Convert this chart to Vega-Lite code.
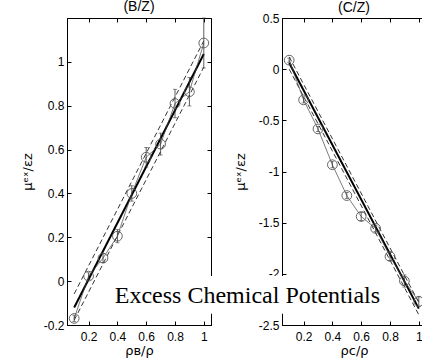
{
  "$schema": "https://vega.github.io/schema/vega-lite/v6.json",
  "padding": {"left": 20, "top": -1, "right": 0, "bottom": 0},
  "bounds": "flush",
  "spacing": 71,
  "datasets": {
    "ptsB": [
      {"x": 0.1, "y": -0.17, "err": 0.015},
      {"x": 0.2, "y": 0.023, "err": 0.015},
      {"x": 0.3, "y": 0.105, "err": 0.02},
      {"x": 0.4, "y": 0.205, "err": 0.03},
      {"x": 0.5, "y": 0.4, "err": 0.035},
      {"x": 0.6, "y": 0.565, "err": 0.045},
      {"x": 0.7, "y": 0.625, "err": 0.05},
      {"x": 0.8, "y": 0.81, "err": 0.065},
      {"x": 0.9, "y": 0.864, "err": 0.065},
      {"x": 1.0, "y": 1.086, "err": 0.114}
    ],
    "fitB": [
      {"x": 0.1, "y": -0.12, "s": "fit"},
      {"x": 1.0, "y": 1.036, "s": "fit"},
      {"x": 0.1, "y": -0.058, "s": "upper"},
      {"x": 1.0, "y": 1.096, "s": "upper"},
      {"x": 0.1, "y": -0.178, "s": "lower"},
      {"x": 1.0, "y": 0.976, "s": "lower"}
    ],
    "ptsC": [
      {"x": 0.1, "y": 0.088, "err": 0.02},
      {"x": 0.2, "y": -0.3, "err": 0.03},
      {"x": 0.3, "y": -0.584, "err": 0.025},
      {"x": 0.4, "y": -0.934, "err": 0.03},
      {"x": 0.5, "y": -1.235, "err": 0.03},
      {"x": 0.6, "y": -1.44, "err": 0.04},
      {"x": 0.7, "y": -1.556, "err": 0.03},
      {"x": 0.8, "y": -1.83, "err": 0.04},
      {"x": 0.9, "y": -2.07, "err": 0.06},
      {"x": 1.0, "y": -2.27, "err": 0.05}
    ],
    "fitC": [
      {"x": 0.1, "y": 0.06, "s": "fit"},
      {"x": 1.0, "y": -2.34, "s": "fit"},
      {"x": 0.1, "y": 0.12, "s": "upper"},
      {"x": 1.0, "y": -2.28, "s": "upper"},
      {"x": 0.1, "y": 0.0, "s": "lower"},
      {"x": 1.0, "y": -2.4, "s": "lower"}
    ]
  },
  "hconcat": [
    {
      "width": 144,
      "height": 307,
      "title": "(B/Z)",
      "layer": [
        {
          "data": {"name": "fitB"},
          "transform": [{"filter": "datum.s != 'fit'"}],
          "mark": {"type": "line", "color": "black", "strokeWidth": 0.8, "strokeDash": [5, 3]},
          "encoding": {
            "x": {"field": "x", "type": "quantitative", "scale": {"domain": [0.05, 1.05], "nice": false, "zero": false},
              "axis": {"values": [0.2, 0.4, 0.6, 0.8, 1], "title": "ρʙ/ρ"}},
            "y": {"field": "y", "type": "quantitative", "scale": {"domain": [-0.2, 1.2], "nice": false, "zero": false},
              "axis": {"values": [-0.2, 0, 0.2, 0.4, 0.6, 0.8, 1], "title": "μᵉˣ/εᴢ", "minExtent": 25, "maxExtent": 25, "titlePadding": 8}},
            "detail": {"field": "s"}
          }
        },
        {
          "data": {"name": "fitB"},
          "transform": [{"filter": "datum.s == 'fit'"}],
          "mark": {"type": "line", "color": "black", "strokeWidth": 2},
          "encoding": {"x": {"field": "x", "type": "quantitative", "axis": null}, "y": {"field": "y", "type": "quantitative", "axis": null}}
        },
        {
          "data": {"name": "ptsB"},
          "mark": {"type": "line", "color": "#444", "strokeWidth": 0.7},
          "encoding": {"x": {"field": "x", "type": "quantitative", "axis": null}, "y": {"field": "y", "type": "quantitative", "axis": null}}
        },
        {
          "data": {"name": "ptsB"},
          "mark": {"type": "errorbar", "ticks": {"size": 4}, "color": "#333", "thickness": 0.8},
          "encoding": {"x": {"field": "x", "type": "quantitative", "axis": null}, "y": {"field": "y", "type": "quantitative", "axis": null}, "yError": {"field": "err"}}
        },
        {
          "data": {"name": "ptsB"},
          "mark": {"type": "point", "shape": "circle", "filled": false, "size": 95, "color": "#555", "strokeWidth": 0.9, "opacity": 1},
          "encoding": {
            "x": {"field": "x", "type": "quantitative", "axis": {"orient": "top", "values": [0.2, 0.4, 0.6, 0.8, 1], "labels": false, "title": null}},
            "y": {"field": "y", "type": "quantitative", "axis": {"orient": "right", "values": [-0.2, 0, 0.2, 0.4, 0.6, 0.8, 1], "labels": false, "title": null}}
          }
        }
      ],
      "resolve": {"axis": {"x": "independent", "y": "independent"}}
    },
    {
      "width": 144,
      "height": 307,
      "title": {"text": "(C/Z)", "offset": -3},
      "layer": [
        {
          "data": {"name": "fitC"},
          "transform": [{"filter": "datum.s != 'fit'"}],
          "mark": {"type": "line", "color": "black", "strokeWidth": 0.8, "strokeDash": [5, 3]},
          "encoding": {
            "x": {"field": "x", "type": "quantitative", "scale": {"domain": [0.05, 1.05], "nice": false, "zero": false},
              "axis": {"values": [0.2, 0.4, 0.6, 0.8, 1], "title": "ρᴄ/ρ"}},
            "y": {"field": "y", "type": "quantitative", "scale": {"domain": [-2.5, 0.5], "nice": false, "zero": false},
              "axis": {"values": [-2.5, -2, -1.5, -1, -0.5, 0, 0.5], "title": "μᵉˣ/εᴢ", "minExtent": 25, "maxExtent": 25, "titlePadding": 10}},
            "detail": {"field": "s"}
          }
        },
        {
          "data": {"name": "fitC"},
          "transform": [{"filter": "datum.s == 'fit'"}],
          "mark": {"type": "line", "color": "black", "strokeWidth": 2},
          "encoding": {"x": {"field": "x", "type": "quantitative", "axis": null}, "y": {"field": "y", "type": "quantitative", "axis": null}}
        },
        {
          "data": {"name": "ptsC"},
          "mark": {"type": "line", "color": "#444", "strokeWidth": 0.7},
          "encoding": {"x": {"field": "x", "type": "quantitative", "axis": null}, "y": {"field": "y", "type": "quantitative", "axis": null}}
        },
        {
          "data": {"name": "ptsC"},
          "mark": {"type": "errorbar", "ticks": {"size": 4}, "color": "#333", "thickness": 0.8},
          "encoding": {"x": {"field": "x", "type": "quantitative", "axis": null}, "y": {"field": "y", "type": "quantitative", "axis": null}, "yError": {"field": "err"}}
        },
        {
          "data": {"name": "ptsC"},
          "mark": {"type": "point", "shape": "circle", "filled": false, "size": 95, "color": "#555", "strokeWidth": 0.9, "opacity": 1},
          "encoding": {
            "x": {"field": "x", "type": "quantitative", "axis": {"orient": "top", "values": [0.2, 0.4, 0.6, 0.8, 1], "labels": false, "title": null}},
            "y": {"field": "y", "type": "quantitative", "axis": {"orient": "right", "values": [-2.5, -2, -1.5, -1, -0.5, 0, 0.5], "labels": false, "title": null}}
          }
        },
        {
          "data": {"values": [{}]},
          "mark": {"type": "rect", "fill": "white", "clip": false},
          "encoding": {
            "x": {"datum": -1.14, "type": "quantitative", "axis": null},
            "x2": {"datum": 0.83},
            "y": {"datum": -2.39, "type": "quantitative", "axis": null},
            "y2": {"datum": -2.02}
          }
        },
        {
          "data": {"values": [{"label": "Excess Chemical Potentials"}]},
          "mark": {"type": "text", "font": "Liberation Serif", "fontSize": 24, "color": "black", "align": "center", "baseline": "middle", "clip": false},
          "encoding": {
            "x": {"datum": -0.19, "type": "quantitative", "axis": null},
            "y": {"datum": -2.22, "type": "quantitative", "axis": null},
            "text": {"field": "label"}
          }
        }
      ],
      "resolve": {"axis": {"x": "independent", "y": "independent"}}
    }
  ],
  "config": {
    "view": {"stroke": "black", "strokeWidth": 1},
    "title": {"font": "Liberation Sans", "fontSize": 14, "fontWeight": "normal", "color": "black", "offset": 4, "frame": "group"},
    "axis": {
      "grid": false,
      "domainColor": "black",
      "tickColor": "black",
      "tickSize": -4,
      "labelPadding": 7,
      "labelFont": "Liberation Sans",
      "labelFontSize": 12,
      "labelColor": "black",
      "labelExpr": "replace(format(datum.value, '~g'), '−', '-')",
      "titleFont": "DejaVu Sans",
      "titleFontSize": 13,
      "titleFontWeight": "normal",
      "titleColor": "black"
    },
    "axisX": {"labelPadding": 10, "titlePadding": 2}
  }
}
